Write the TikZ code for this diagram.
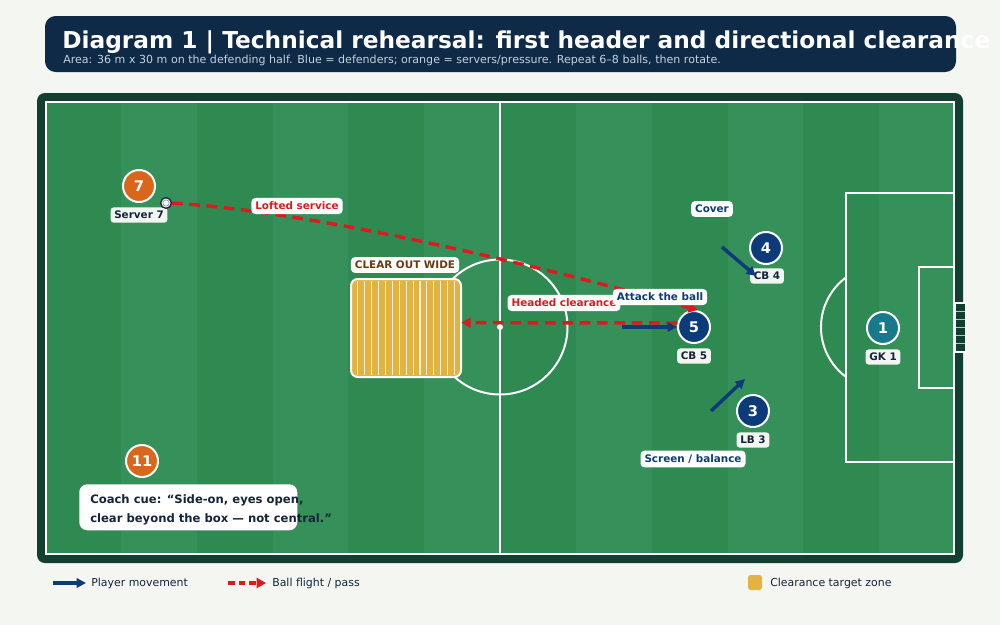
\documentclass[tikz,border=0pt]{standalone}
\usepackage{fontspec}
\setmainfont{DejaVu Sans}
\usetikzlibrary{arrows.meta}
\definecolor{bgc}{HTML}{F4F6F1}
\definecolor{navyt}{HTML}{0E2A47}
\definecolor{subt}{HTML}{C5D2DE}
\definecolor{frame}{HTML}{123F30}
\definecolor{grassA}{HTML}{2F8A52}
\definecolor{grassB}{HTML}{35905A}
\definecolor{defb}{HTML}{0D3B7A}
\definecolor{gkc}{HTML}{17798A}
\definecolor{orng}{HTML}{D9661A}
\definecolor{ballred}{HTML}{E0191E}
\definecolor{zoney}{HTML}{E3B341}
\definecolor{brownt}{HTML}{6B3A10}
\definecolor{labt}{HTML}{14243A}
\definecolor{labf}{HTML}{F3F5F1}
\tikzset{
  player/.style={circle, minimum size=24pt, inner sep=0pt, draw=white, line width=1.5pt, text=white, font=\fontsize{11}{13}\selectfont\bfseries},
  plab/.style={fill=labf, rounded corners=2.5pt, inner sep=2.8pt, text=labt, font=\fontsize{7.8}{9}\selectfont\bfseries},
  tagred/.style={fill=white, rounded corners=3pt, inner sep=3pt, text=ballred, font=\fontsize{7.8}{9}\selectfont\bfseries},
  tagblue/.style={fill=white, rounded corners=3pt, inner sep=3pt, text=defb, font=\fontsize{7.8}{9}\selectfont\bfseries},
  pline/.style={white, line width=1.5pt},
  movearrow/.style={defb, line width=2.6pt, -{Triangle[length=7pt,width=7pt]}},
  ballarrow/.style={ballred, line width=2.6pt, dash pattern=on 8pt off 5pt, -{Triangle[length=7pt,width=7.5pt]}},
}
\begin{document}
\begin{tikzpicture}[x=0.75pt,y=-0.75pt]
\useasboundingbox (0,0) rectangle (1000,625);
\fill[bgc] (0,0) rectangle (1000,625);
% title bar
\fill[navyt, rounded corners=8pt] (45,16) rectangle (956,72);
\node[anchor=base west, text=white, inner sep=0pt, font=\fontsize{17.45}{20}\selectfont\bfseries] (title) at (62,48) {Diagram 1 | Technical rehearsal: first header and directional clearance};
\node[anchor=base west, text=subt, inner sep=0pt, font=\fontsize{8.3}{10}\selectfont] (subtitle) at (63,63) {Area: 36 m x 30 m on the defending half. Blue = defenders; orange = servers/pressure. Repeat 6–8 balls, then rotate.};
% pitch frame
\fill[frame, rounded corners=6pt] (37,93) rectangle (963,563);
\foreach \i in {0,...,11} {
  \pgfmathsetmacro{\xa}{45+\i*75.833}
  \pgfmathsetmacro{\xb}{45+(\i+1)*75.833}
  \ifodd\i \fill[grassB] (\xa,101) rectangle (\xb,555); \else \fill[grassA] (\xa,101) rectangle (\xb,555); \fi
}
% markings
\draw[pline] (46,102) rectangle (954,554);
\draw[pline] (500,102) -- (500,554);
\draw[pline] (500,327) circle[radius=67.5];
\fill[white] (500,327) circle[radius=3];
\draw[pline] (954,193) -- (846,193) -- (846,462) -- (954,462);
\draw[pline] (954,267) -- (919,267) -- (919,388) -- (954,388);
\draw[pline] (846,277.4) arc[start angle=-126.6, end angle=-233.4, radius=62];
% goal
\draw[white, line width=1pt, fill=frame] (955,303) rectangle (966,352);
\foreach \gy in {311,319,327,335,343} \draw[white!70!frame, line width=0.5pt] (956,\gy) -- (965,\gy);
% target zone
\fill[zoney, rounded corners=5pt] (351,279) rectangle (461,377);
\foreach \k in {1,...,15} \draw[white!80!zoney, line width=0.8pt] (351+\k*6.9,281) -- (351+\k*6.9,375);
\draw[white, line width=1.5pt, rounded corners=5pt] (351,279) rectangle (461,377);
\node[inner sep=0pt, minimum width=110pt*0.75, minimum height=98pt*0.75] (zone) at (406,328) {};
\node[fill=white, rounded corners=3pt, inner sep=3pt, text=brownt, font=\fontsize{7.8}{9}\selectfont\bfseries] (zonelab) at (405,265) {CLEAR OUT WIDE};
% players
\node[player, fill=orng] (p7) at (139,186) {7};
\node[plab] (l7) at (139,215) {Server 7};
\node[player, fill=orng] (p11) at (142,461) {11};
\node[player, fill=gkc] (p1) at (883,328) {1};
\node[plab] (l1) at (883,357) {GK 1};
\node[player, fill=defb] (p4) at (766,248) {4};
\node[plab] (l4) at (767,276) {CB 4};
\node[player, fill=defb] (p5) at (694,327) {5};
\node[plab] (l5) at (694,356) {CB 5};
\node[player, fill=defb] (p3) at (753,411) {3};
\node[plab] (l3) at (753,440) {LB 3};
% ball
\node[circle, fill=white, draw=labt, line width=1pt, minimum size=8pt, inner sep=0pt] (ball) at (166,203) {};
\draw[labt!50!white, line width=0.5pt] (166,203) circle[radius=3.2];
% ball flights
\draw[ballarrow] (ball.east) .. controls (287,210) and (466,246) .. ([xshift=3pt]p5.north);
\draw[ballarrow] ([yshift=3pt]p5.west) -- ([yshift=4pt]zone.east);
% movements
\coordinate (m5) at (622,327);
\coordinate (m4s) at (722,247);
\coordinate (m4e) at (756,276);
\coordinate (m3s) at (711,411);
\coordinate (m3e) at (745,379);
\draw[movearrow] (m5) -- (p5.west);
\draw[movearrow] (m4s) -- (m4e);
\draw[movearrow] (m3s) -- (m3e);
% tags
\node[tagred] (tlofted) at (297,206) {Lofted service};
\node[tagred] (theaded) at (564,303) {Headed clearance};
\node[tagblue] (tattack) at (660,297) {Attack the ball};
\node[tagblue] (tcover) at (712,209) {Cover};
\node[tagblue] (tscreen) at (693,459) {Screen / balance};
% coach cue
\node[fill=white, rounded corners=6pt, anchor=north west, minimum width=218pt*0.75, minimum height=46pt*0.75, inner sep=0pt] (cuebox) at (79,484) {};
\node[anchor=north west, inner sep=0pt, align=left, text=labt, font=\fontsize{8.7}{14.2}\selectfont\bfseries] (cue) at (90,494) {Coach cue: “Side-on, eyes open,\\clear beyond the box — not central.”};
% legend
\coordinate (lg1s) at (53,583); \coordinate (lg1e) at (86,583);
\draw[movearrow] (lg1s) -- (lg1e);
\node[anchor=west, inner sep=0pt, text=labt, font=\fontsize{8.2}{10}\selectfont] (lgt1) at (91,583) {Player movement};
\coordinate (lg2s) at (228,583); \coordinate (lg2e) at (266,583);
\draw[ballarrow, dash pattern=on 5pt off 3pt] (lg2s) -- (lg2e);
\node[anchor=west, inner sep=0pt, text=labt, font=\fontsize{8.2}{10}\selectfont] (lgt2) at (272,583) {Ball flight / pass};
\fill[zoney, rounded corners=2pt] (748,575) rectangle (762,590);
\node[anchor=west, inner sep=0pt, text=labt, font=\fontsize{8.2}{10}\selectfont] (lgt3) at (770,583) {Clearance target zone};
\end{tikzpicture}
\end{document}
